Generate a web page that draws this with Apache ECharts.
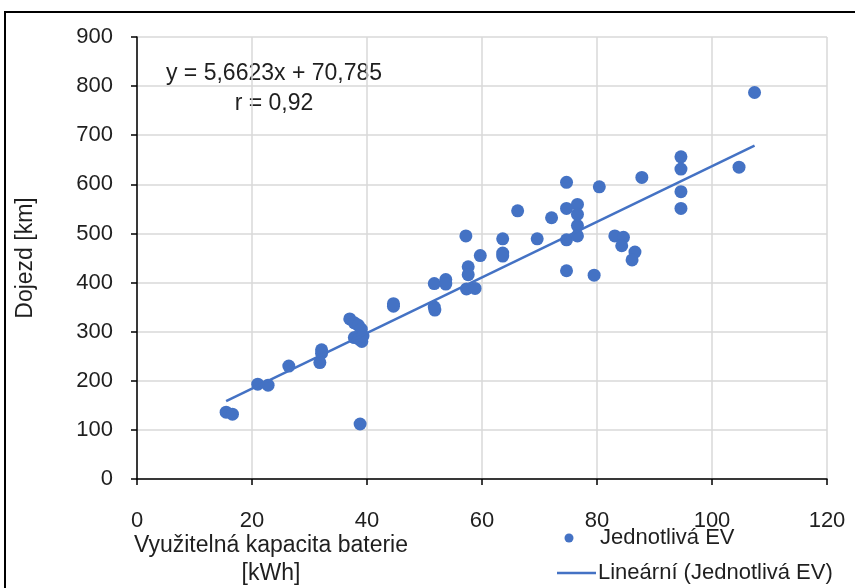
<!DOCTYPE html>
<html>
<head>
<meta charset="utf-8">
<script src="https://cdn.jsdelivr.net/npm/echarts@6/dist/echarts.min.js"></script>
<style>
html,body{margin:0;padding:0;background:#fff;}
#chart{width:855px;height:588px;}
</style>
</head>
<body>
<div id="chart"></div>
<script>
// Usable battery capacity [kWh]
const capacity = [15.5,16.6,21.0,22.8,26.4,32.1,32.1,31.8,37.0,37.8,38.5,39.0,37.8,38.6,39.1,39.3,38.8,44.6,44.6,51.7,51.7,51.8,53.7,53.7,57.2,57.6,57.6,57.3,58.8,59.7,63.6,63.6,63.6,66.2,69.6,72.1,74.7,74.7,74.7,74.7,76.6,76.6,76.6,76.6,79.5,80.4,83.1,84.6,84.3,86.6,86.1,87.8,94.6,94.6,94.6,94.6,104.7,107.4];
// Range [km]
const range = [136,132,193,191,230,263,256,237,326,318,313,305,288,285,280,291,112,357,352,398,350,344,406,397,495,432,416,387,388,455,489,460,454,546,489,532,604,551,487,424,559,539,516,495,415,595,495,492,475,462,446,614,656,631,585,551,635,787];
const slope = 5.6623;
const intercept = 70.785;
const equationText = 'y = 5,6623x + 70,785';
const rText = 'r = 0,92';
const xTitle = ['Využitelná kapacita baterie', '[kWh]'];
const yTitle = 'Dojezd [km]';
const seriesName = 'Jednotlivá EV';
const trendName = 'Lineární (Jednotlivá EV)';

const FONT = "'Liberation Sans', Arial, sans-serif";
const TXT = '#1f1f1f';
const BLUE = '#4472C4';

const points = capacity.map((x, i) => [x, range[i]]);
const xMin = Math.min(...capacity), xMax = Math.max(...capacity);
const trend = [[xMin, slope * xMin + intercept], [xMax, slope * xMax + intercept]];

const chart = echarts.init(document.getElementById('chart'), null, {renderer: 'canvas'});
chart.setOption({
  animation: false,
  backgroundColor: '#fff',
  grid: {left: 137, right: 28, top: 37, bottom: 109},
  xAxis: {
    type: 'value', min: 0, max: 120, interval: 20,
    axisLine: {show: true, onZero: false, lineStyle: {color: '#000', width: 1.5}},
    axisTick: {show: true, inside: false, length: 6, lineStyle: {color: '#000', width: 1.5}},
    axisLabel: {margin: 31, fontSize: 22, color: TXT, fontFamily: FONT},
    splitLine: {show: true, lineStyle: {color: '#d9d9d9', width: 1.5}}
  },
  yAxis: {
    type: 'value', min: 0, max: 900, interval: 100,
    name: yTitle, nameLocation: 'middle', nameGap: 100,
    nameTextStyle: {fontSize: 23, color: TXT, fontFamily: FONT},
    axisLine: {show: true, lineStyle: {color: '#000', width: 1.5}},
    axisTick: {show: true, inside: false, length: 6, lineStyle: {color: '#000', width: 1.5}},
    axisLabel: {margin: 24, fontSize: 22, color: TXT, fontFamily: FONT},
    splitLine: {show: true, lineStyle: {color: '#d9d9d9', width: 1.5}}
  },
  series: [
    {
      name: seriesName, type: 'scatter', data: points,
      symbol: 'circle', symbolSize: 13,
      itemStyle: {color: BLUE, opacity: 1}
    },
    {
      name: trendName, type: 'line', data: trend,
      symbol: 'none', lineStyle: {color: BLUE, width: 2.5},
      z: 3
    }
  ],
  graphic: [
    {type: 'rect', shape: {x: 5, y: 12, width: 900, height: 700},
     style: {fill: 'none', stroke: '#000', lineWidth: 2}, z: -10, silent: true},
    {type: 'text', x: 274, y: 74, style: {text: equationText, font: '23px ' + FONT, fill: TXT, textAlign: 'center', textVerticalAlign: 'middle'}},
    {type: 'text', x: 274, y: 104, style: {text: rText, font: '23px ' + FONT, fill: TXT, textAlign: 'center', textVerticalAlign: 'middle'}},
    {type: 'text', x: 271, y: 546, style: {text: xTitle[0], font: '23px ' + FONT, fill: TXT, textAlign: 'center', textVerticalAlign: 'middle'}},
    {type: 'text', x: 271, y: 574, style: {text: xTitle[1], font: '23px ' + FONT, fill: TXT, textAlign: 'center', textVerticalAlign: 'middle'}},
    {type: 'circle', shape: {cx: 569, cy: 538, r: 4.5}, style: {fill: BLUE}},
    {type: 'text', x: 600, y: 538, style: {text: seriesName, font: '22px ' + FONT, fill: TXT, textAlign: 'left', textVerticalAlign: 'middle'}},
    {type: 'line', shape: {x1: 557, y1: 573, x2: 596, y2: 573}, style: {stroke: BLUE, lineWidth: 2.5}},
    {type: 'text', x: 598, y: 573, style: {text: trendName, font: '22px ' + FONT, fill: TXT, textAlign: 'left', textVerticalAlign: 'middle'}}
  ]
});
</script>
</body>
</html>
